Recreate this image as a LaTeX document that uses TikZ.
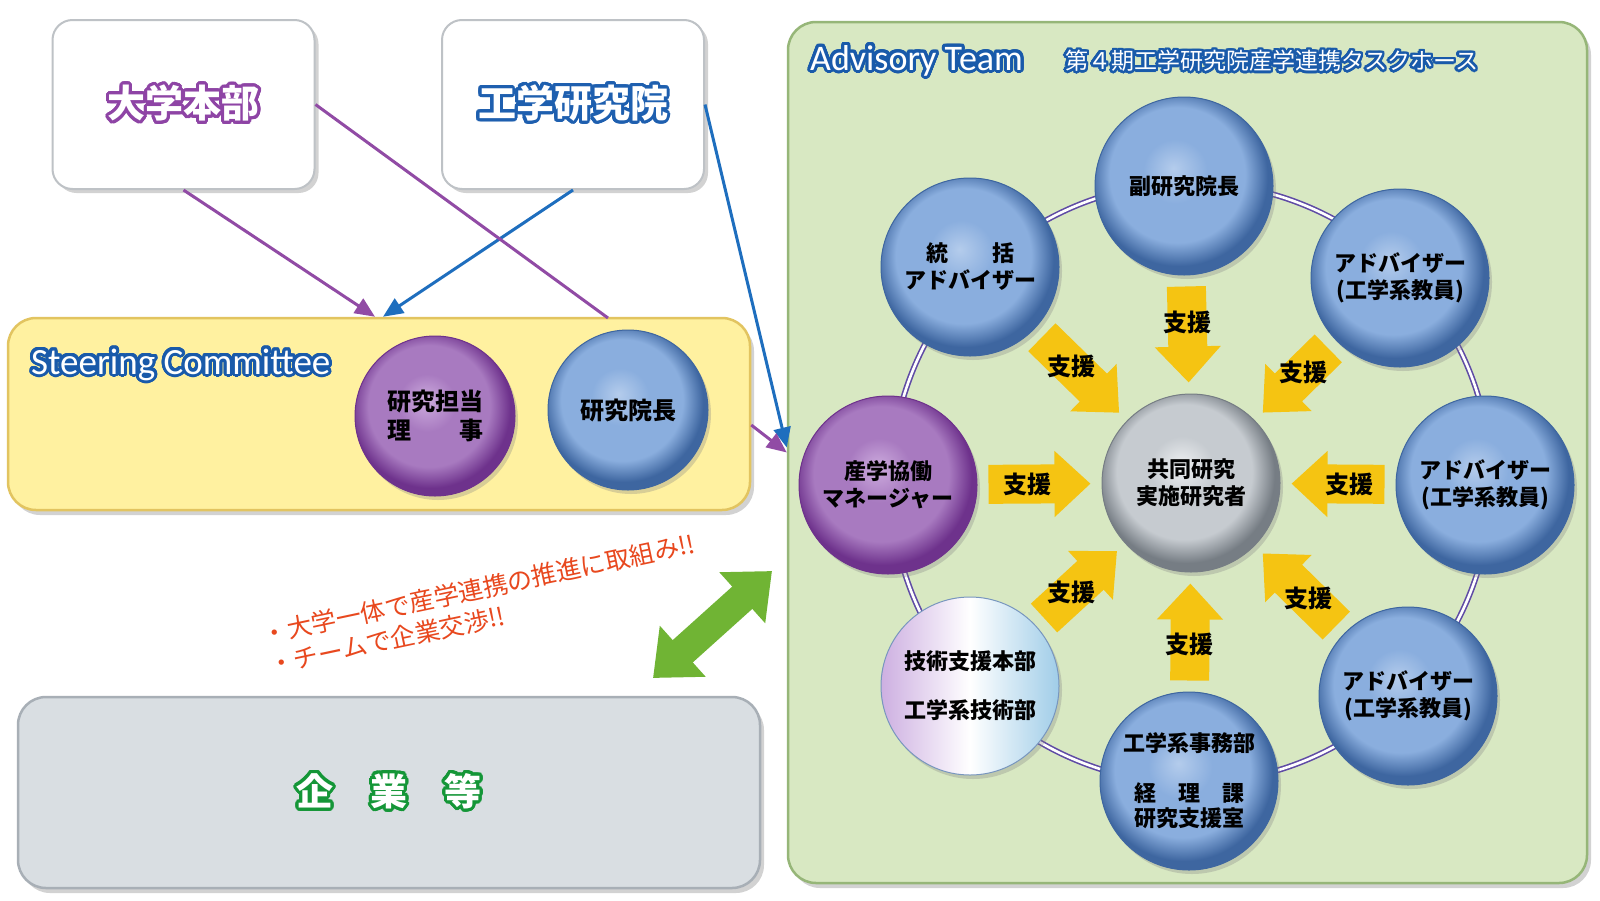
\documentclass[tikz,border=0pt]{standalone}
\usepackage{fontspec}
\newfontfamily\jpfont{Noto Sans CJK JP}
\newfontfamily\latfont{Carlito}
\usepackage[copies]{contour}
\contourlength{3pt}
\contournumber{32}
\usetikzlibrary{arrows.meta, positioning, shadows}

\definecolor{boxedge}{RGB}{190,194,198}
\definecolor{steerfill}{RGB}{255,241,160}
\definecolor{steeredge}{RGB}{226,196,96}
\definecolor{teamfill}{RGB}{216,232,194}
\definecolor{teamedge}{RGB}{150,182,120}
\definecolor{firmfill}{RGB}{217,222,226}
\definecolor{firmedge}{RGB}{168,175,182}
\definecolor{hqglow}{RGB}{142,68,165}
\definecolor{gseglow}{RGB}{30,95,175}
\definecolor{firmglow}{RGB}{20,150,55}
\definecolor{titleblue}{RGB}{25,90,170}
\definecolor{linkpurple}{RGB}{145,75,165}
\definecolor{linkblue}{RGB}{30,110,190}
\definecolor{ringpurple}{RGB}{95,75,165}
\definecolor{aidgold}{RGB}{245,196,18}
\definecolor{sloganred}{RGB}{232,72,30}
\definecolor{dealgreen}{RGB}{112,180,52}
% disc colours
\definecolor{bluehi}{RGB}{180,204,236}
\definecolor{bluemid}{RGB}{138,174,222}
\definecolor{blueedge}{RGB}{62,102,160}
\definecolor{purphi}{RGB}{205,172,222}
\definecolor{purpmid}{RGB}{168,122,192}
\definecolor{purpedge}{RGB}{110,50,140}
\definecolor{greyhi}{RGB}{238,240,242}
\definecolor{greymid}{RGB}{198,203,208}
\definecolor{greyedge}{RGB}{118,125,132}
\definecolor{techl}{RGB}{205,175,225}
\definecolor{techr}{RGB}{160,205,232}
\definecolor{techedge}{RGB}{120,150,190}

\pgfdeclareradialshading{bluedisc}{\pgfpoint{-3bp}{5bp}}{color(0bp)=(bluehi); color(9bp)=(bluemid); color(19bp)=(bluemid); color(25bp)=(blueedge); color(50bp)=(blueedge)}
\pgfdeclareradialshading{purpdisc}{\pgfpoint{-3bp}{5bp}}{color(0bp)=(purphi); color(9bp)=(purpmid); color(19bp)=(purpmid); color(25bp)=(purpedge); color(50bp)=(purpedge)}
\pgfdeclareradialshading{greydisc}{\pgfpoint{-3bp}{5bp}}{color(0bp)=(greyhi); color(9bp)=(greymid); color(19bp)=(greymid); color(25bp)=(greyedge); color(50bp)=(greyedge)}
\pgfdeclarehorizontalshading{techdisc}{100bp}{color(0bp)=(techl); color(25bp)=(techl); color(50bp)=(white); color(75bp)=(techr); color(100bp)=(techr)}

\begin{document}
\begin{tikzpicture}[x=1pt, y=-1pt,
  whitebox/.style={rectangle, rounded corners=20pt, draw=boxedge, line width=2pt, fill=white, minimum width=262pt, minimum height=169pt, text=white, font=\jpfont\bfseries\fontsize{38}{38}\selectfont, drop shadow={shadow xshift=4pt, shadow yshift=-4pt, opacity=0.35}},
  panel/.style={rectangle, rounded corners=28pt, line width=2.5pt, drop shadow={shadow xshift=4pt, shadow yshift=-5pt, opacity=0.35}},
  glow/.style={text=white, inner sep=0pt},
  disc/.style={circle, inner sep=0pt, minimum size=178pt, shade, shading=#1disc, draw=#1edge, line width=1pt, align=center, text=black, font=\jpfont\bfseries\fontsize{22}{27}\selectfont, drop shadow={shadow xshift=3pt, shadow yshift=-4pt, opacity=0.3}},
  aid/.style={line width=39pt, draw=aidgold, -{Triangle[length=36pt, width=64pt]}, shorten <=11pt, shorten >=11pt},
  aidtext/.style={font=\jpfont\bfseries\fontsize{24}{24}\selectfont, inner sep=0pt, pos=0.4},
  link/.style={line width=3pt, -{Triangle[length=20pt, width=17pt]}},
  ring/.style={draw=ringpurple, line width=1.6pt, double=white, double distance=2.6pt}
]
  \fill[white] (0,0) rectangle (1600,900);
  \useasboundingbox (0,0) rectangle (1600,900);

  % boxes
  \node[whitebox] (hq) at (183.5,104.5) {\contour{hqglow}{大学本部}};
  \node[whitebox] (gse) at (573,104.5) {\contour{gseglow}{工学研究院}};
  \node[panel, fill=steerfill, draw=steeredge, minimum width=742pt, minimum height=192pt] (steer) at (379,414) {};
  \node[panel, fill=teamfill, draw=teamedge, minimum width=799pt, minimum height=861pt] (team) at (1187.5,452.5) {};
  \node[panel, fill=firmfill, draw=firmedge, minimum width=742pt, minimum height=191pt, text=white, font=\jpfont\bfseries\fontsize{37}{37}\selectfont] (firms) at (389,792.5) {\contour{firmglow}{企　業　等}};

  % steering committee members
  \node[disc=purp, minimum size=160pt, font=\jpfont\bfseries\fontsize{24}{28.5}\selectfont] (rexec) at (435,416) {研究担当\\理　　事};
  \node[disc=blue, minimum size=160pt, font=\jpfont\bfseries\fontsize{24}{28.5}\selectfont] (dean) at (628,410) {研究院長};

  % advisory team ring
  \coordinate (hub) at (1191,483);
  \draw[ring] (hub) circle[radius=300pt];

  \node[disc=blue] (vice) at (1184,186) {副研究院長};
  \node[disc=blue] (chief) at (970,267) {統　　括\\アドバイザー};
  \node[disc=blue] (advA) at (1400,278) {アドバイザー\\(工学系教員)};
  \node[disc=purp] (mgr) at (888,485) {産学協働\\マネージャー};
  \node[disc=grey] (core) at (1191,483) {共同研究\\実施研究者};
  \node[disc=blue] (advB) at (1485,485) {アドバイザー\\(工学系教員)};
  \node[disc=tech] (tech) at (970,686) {技術支援本部\\[22pt]工学系技術部};
  \node[disc=blue, font=\jpfont\bfseries\fontsize{22}{25}\selectfont] (office) at (1189,781) {工学系事務部\\[25pt]経　理　課\\研究支援室};
  \node[disc=blue] (advC) at (1408,696) {アドバイザー\\(工学系教員)};

  \foreach \src in {vice, chief, advA, mgr, advB, tech, office, advC}
    \draw[aid] (\src) -- node[aidtext] {支援} (core);

  % connectors
  \coordinate (deanlink) at (608,318);
  \draw[link, draw=linkpurple] (hq.south) -- ([xshift=-4pt]steer.north);
  \draw[link, draw=linkblue] (gse.south) -- ([xshift=4pt]steer.north);
  \draw[line width=3pt, draw=linkpurple] (hq.east) -- (deanlink);
  \draw[link, draw=linkblue] (gse.east) -- ([yshift=5pt]team.west);
  \draw[link, draw=linkpurple] ([yshift=-11pt]steer.east) -- (team.west);

  % titles
  \node[glow, font=\latfont\fontsize{37}{37}\selectfont, anchor=west] (steertitle) at (31,366) {\contour{titleblue}{Steering Committee}};
  \node[glow, font=\latfont\fontsize{36}{36}\selectfont, anchor=west] (advtitle) at (810,62) {\contour{titleblue}{Advisory Team}};
  \node[glow, font=\jpfont\fontsize{23}{23}\selectfont, right=42pt of advtitle] (subtitle) {\contourlength{2.5pt}\contour{titleblue}{第４期工学研究院産学連携タスクホース}};

  % slogan and link to companies
  \node[inner sep=0pt, align=left, text=sloganred, font=\jpfont\fontsize{25}{31}\selectfont, rotate=12, anchor=west] (slogan) at (266,650) {・大学一体で産学連携の推進に取組み!!\\・チームで企業交渉!!};
  \coordinate (dealA) at (653,678);
  \coordinate (dealB) at (772,571);
  \draw[line width=30pt, draw=dealgreen, {Triangle[length=40pt, width=66pt]}-{Triangle[length=40pt, width=66pt]}] (dealA) -- (dealB);
\end{tikzpicture}
\end{document}
